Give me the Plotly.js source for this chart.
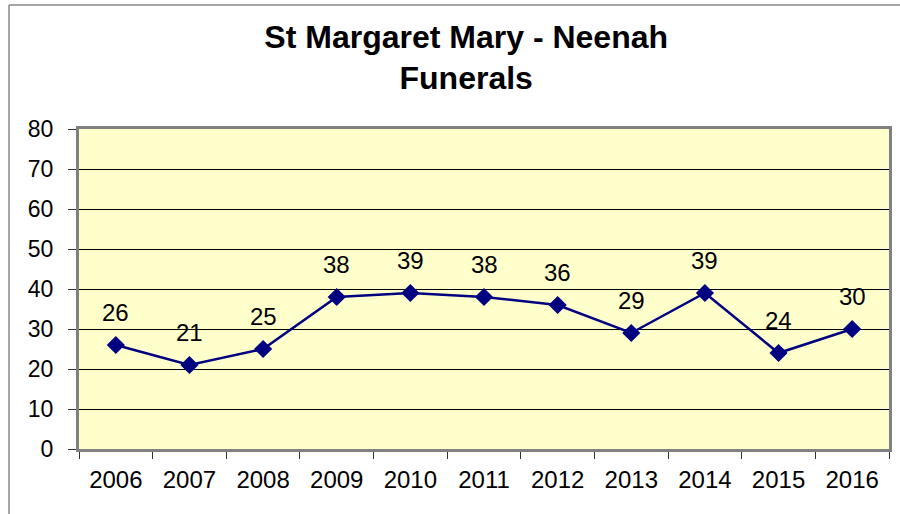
<!DOCTYPE html>
<html>
<head>
<meta charset="utf-8">
<script src="https://cdn.plot.ly/plotly-3.0.1.min.js"></script>
<style>html,body{margin:0;padding:0;background:#fff;}#chart{width:900px;height:514px;}</style>
</head>
<body>
<div id="chart"></div>
<script>
const years = ["2006","2007","2008","2009","2010","2011","2012","2013","2014","2015","2016"];
const funerals = [26, 21, 25, 38, 39, 38, 36, 29, 39, 24, 30];
const yTicks = [0,10,20,30,40,50,60,70,80];

const FONT = "Liberation Sans, Arial, sans-serif";

const trace = {
  x: years,
  y: funerals,
  type: "scatter",
  mode: "lines+markers",
  line: {color: "#000080", width: 2.5},
  marker: {symbol: "diamond", size: 14, color: "#000080"},
  hoverinfo: "x+y",
  cliponaxis: false
};

// category axis annotations use the category index as position
const annotations = years.map((yr, i) => ({
  x: i, y: funerals[i], xref: "x", yref: "y",
  text: String(funerals[i]), showarrow: false,
  yshift: 33, font: {family: FONT, size: 24, color: "#000"}
}));

const layout = {
  width: 900, height: 514,
  margin: {l: 79, r: 11, t: 129, b: 65},
  paper_bgcolor: "#ffffff",
  plot_bgcolor: "#FFFFCC",
  showlegend: false,
  title: {
    text: "<b>St Margaret Mary - Neenah<br>Funerals</b>",
    font: {family: FONT, size: 32, color: "#000"},
    x: 0.518, xanchor: "center",
    y: 0.907, yanchor: "middle"
  },
  xaxis: {
    type: "category",
    tickson: "boundaries",
    ticks: "outside", ticklen: 7, tickcolor: "#333", tickwidth: 1,
    ticklabelstandoff: 7,
    showgrid: false, zeroline: false,
    showline: true, linecolor: "#808080", linewidth: 3, mirror: true,
    tickfont: {family: FONT, size: 24, color: "#000"},
    range: [-0.5, 10.5]
  },
  yaxis: {
    range: [0, 80],
    tickvals: yTicks,
    ticks: "outside", ticklen: 8, tickcolor: "#333", tickwidth: 1,
    ticklabelstandoff: 10,
    showgrid: true, gridcolor: "#000000", gridwidth: 1,
    zeroline: false,
    showline: true, linecolor: "#808080", linewidth: 3, mirror: true,
    tickfont: {family: FONT, size: 23, color: "#000"}
  },
  annotations: annotations,
  shapes: [
    {type: "line", xref: "paper", yref: "paper", x0: -0.0864, x1: -0.0864, y0: -0.3, y1: 1.3875,
     line: {color: "#888888", width: 1.5}},
    {type: "line", xref: "paper", yref: "paper", x0: -0.0864, x1: 1.1, y0: 1.3875, y1: 1.3875,
     line: {color: "#888888", width: 1.5}}
  ]
};

Plotly.newPlot("chart", [trace], layout, {displayModeBar: false, staticPlot: true});
</script>
</body>
</html>
